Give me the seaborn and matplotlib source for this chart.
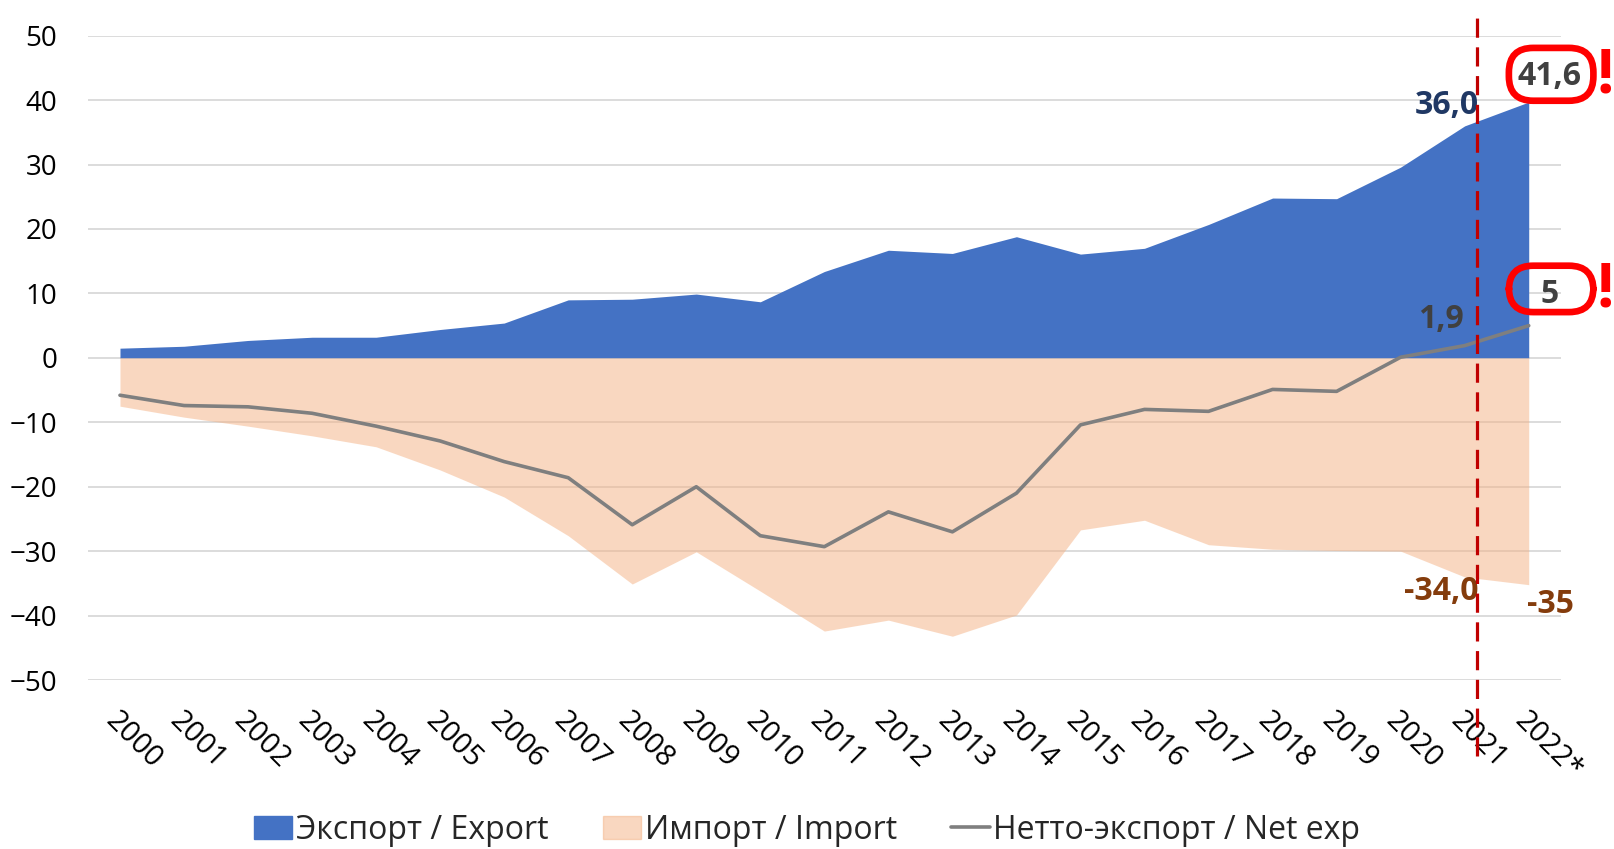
import matplotlib
matplotlib.use('Agg')
import matplotlib.pyplot as plt
from matplotlib.patches import Patch, FancyBboxPatch
from matplotlib.lines import Line2D
import numpy as np
import pandas as pd
import seaborn as sns

years = ['2000', '2001', '2002', '2003', '2004', '2005', '2006', '2007', '2008', '2009', '2010',
         '2011', '2012', '2013', '2014', '2015', '2016', '2017', '2018', '2019', '2020', '2021', '2022*']
export = [1.5, 1.8, 2.7, 3.2, 3.2, 4.4, 5.4, 9.0, 9.1, 9.9, 8.7,
          13.4, 16.7, 16.2, 18.8, 16.1, 17.0, 20.7, 24.8, 24.7, 29.6, 36.0, 39.7]
imports = [-7.5, -9.2, -10.6, -12.1, -13.8, -17.4, -21.6, -27.6, -35.1, -30.1, -36.2,
           -42.4, -40.7, -43.2, -39.9, -26.7, -25.2, -29.0, -29.7, -29.9, -30.0, -34.0, -35.2]
net = [-5.8, -7.4, -7.6, -8.6, -10.6, -12.9, -16.1, -18.6, -25.9, -20.0, -27.6,
       -29.3, -23.9, -27.0, -21.0, -10.4, -8.0, -8.3, -4.9, -5.2, 0.1, 1.9, 5.0]
series_names = ['Экспорт / Export', 'Импорт / Import', 'Нетто-экспорт / Net exp']

df = pd.DataFrame({'pos': np.arange(len(years)), 'year': years,
                   'export': export, 'import': imports, 'net': net})

sns.set_theme(style='white')
plt.rcParams['font.family'] = ['Open Sans', 'DejaVu Sans']

blue = '#4472C4'
peach = '#F4B183'
grey = '#7F7F7F'

fig = plt.figure(figsize=(16.14, 8.49), dpi=100)
ax = fig.add_axes([0.0545, 0.199, 0.9125, 0.759])

ax.fill_between(df['pos'], 0, df['export'], color=blue, lw=0, zorder=1)
ax.fill_between(df['pos'], 0, df['import'], color=peach, alpha=0.5, lw=0, zorder=2)
sns.lineplot(data=df, x='pos', y='net', color=grey, lw=2.6, ax=ax, zorder=3, legend=False)

ax.set_xlim(-0.5, len(years) - 0.5)
ax.set_ylim(-50, 50)
ax.set_yticks(range(-50, 51, 10))
ax.set_xticks(df['pos'])
ax.set_xticklabels(years, rotation=-45, ha='left', va='top', rotation_mode='anchor')
ax.tick_params(axis='y', labelsize=20, pad=22, length=0, colors='#000000')
ax.tick_params(axis='x', labelsize=21, pad=19, length=0, colors='#000000')
ax.grid(axis='y', color='#D9D9D9', lw=1.3, zorder=0.5)
ax.set_axisbelow(True)
for s in ax.spines.values():
    s.set_visible(False)
ax.set_xlabel('')
ax.set_ylabel('')

# dashed marker just right of 2021
ax.axvline(21.19, ymin=-0.118, ymax=1.04, color='#C00000', lw=2.3, ls=(0, (6, 3)),
           clip_on=False, zorder=4)

# data labels
lab = dict(fontsize=23, fontweight='bold', va='center')
ax.text(21.22, 39.1, '36,0', ha='right', color='#203864', **lab)
ax.text(20.98, 5.9, '1,9', ha='right', color='#404040', **lab)
ax.text(21.22, -36.3, '-34,0', ha='right', color='#843C0C', **lab)
ax.text(22.34, -38.2, '-35', ha='center', color='#843C0C', **lab)
ax.text(22.33, 43.6, '41,6', ha='center', color='#404040', zorder=6, **lab)
ax.text(22.33, 9.9, '5', ha='center', color='#404040', zorder=6, **lab)

# red pill-shaped highlight boxes + exclamation marks
for y0, y1, ym in ((39.9, 48.1, 43.6), (7.1, 14.3, 10.3)):
    ax.add_patch(FancyBboxPatch((21.69, y0), 1.32, y1 - y0,
                                boxstyle='round,pad=0,rounding_size=0.38',
                                mutation_aspect=10, fc='none', ec='#FF0000', lw=4.8,
                                clip_on=False, zorder=5))
    ax.text(23.19, ym, '!', ha='center', va='center', fontsize=44, fontweight='bold',
            color='#FF0000', clip_on=False)

handles = [Patch(color=blue, label=series_names[0]),
           Patch(color=peach, alpha=0.5, label=series_names[1]),
           Line2D([], [], color=grey, lw=2.6, label=series_names[2])]
fig.legend(handles=handles, loc='center', bbox_to_anchor=(0.5, 0.022), ncol=3,
           frameon=False, fontsize=23, handlelength=1.2, handleheight=0.75,
           handletextpad=0.12, columnspacing=1.7)

fig.savefig('out.png', dpi=100)
